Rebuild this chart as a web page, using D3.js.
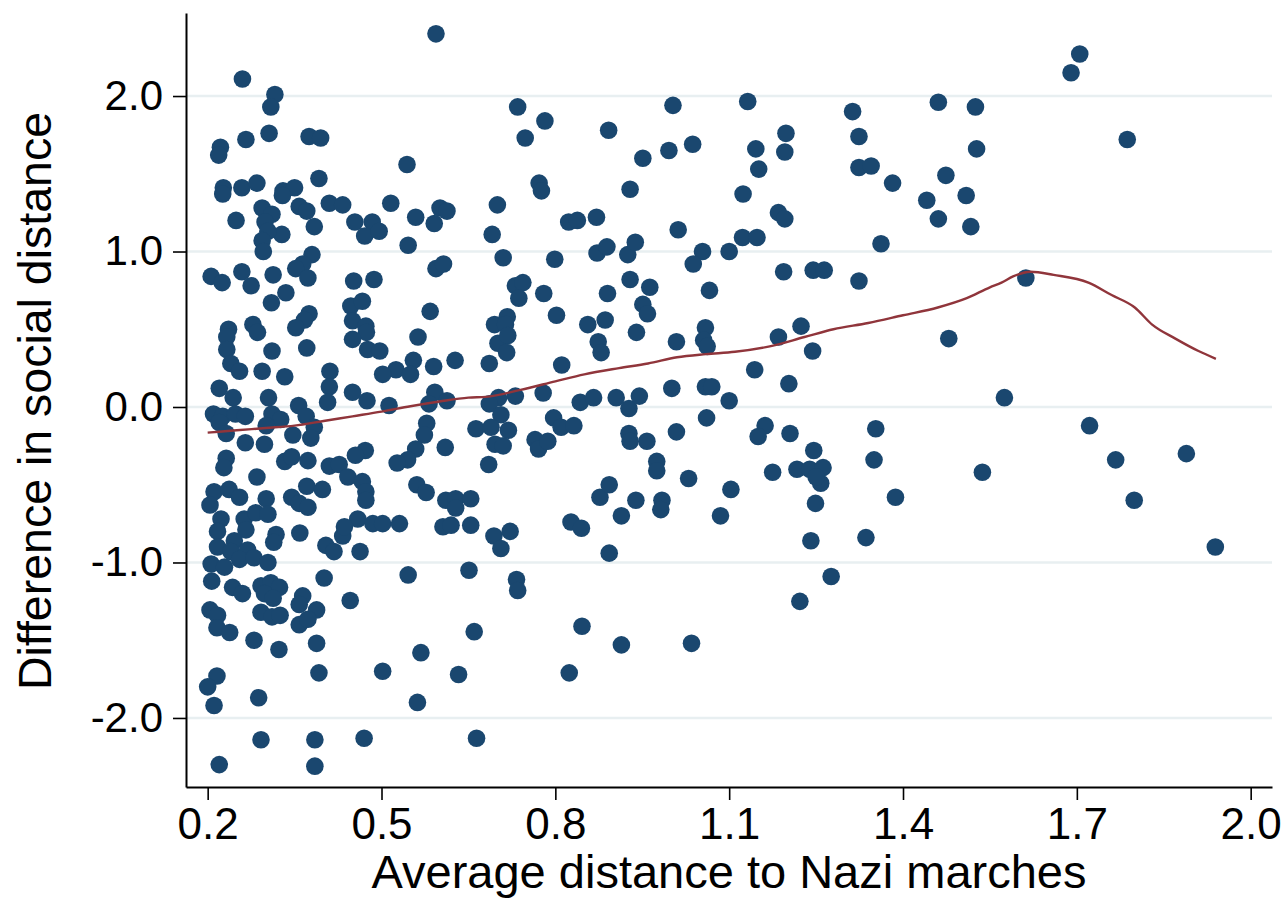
<!DOCTYPE html>
<html>
<head>
<meta charset="utf-8">
<script src="https://cdn.jsdelivr.net/npm/d3@7"></script>
<style>
  body { margin: 0; background: #fff; }
  text { font-family: "Liberation Sans", Arial, sans-serif; fill: #000; }
</style>
</head>
<body>
<div id="chart"></div>
<script>
// ticks
var xTicks = [0.2, 0.5, 0.8, 1.1, 1.4, 1.7, 2.0];
var yTicks = [-2.0, -1.0, 0.0, 1.0, 2.0];

// scatter: [average distance to marches, difference in social distance]
var marchPoints = [
  [0.260,2.11],[0.316,2.01],[0.309,1.93],[0.306,1.76],[0.266,1.72],[0.375,1.74],[0.395,1.73],[0.222,1.67],[0.219,1.62],
  [0.227,1.41],[0.226,1.37],[0.259,1.41],[0.285,1.44],[0.330,1.39],[0.350,1.41],[0.329,1.36],[0.392,1.47],[0.410,1.31],
  [0.249,1.20],[0.294,1.28],[0.311,1.24],[0.299,1.19],[0.358,1.29],[0.371,1.26],[0.328,1.11],[0.384,1.16],[0.304,1.13],
  [0.294,1.07],[0.296,1.00],[0.380,0.98],[0.364,0.92],[0.206,0.84],[0.259,0.87],[0.313,0.85],[0.352,0.89],
  [0.225,0.80],[0.275,0.78],[0.335,0.735],[0.310,0.67],[0.373,0.83],[0.375,0.60],[0.367,0.56],[0.352,0.51],[0.236,0.50],
  [0.233,0.45],[0.278,0.53],[0.286,0.48],[0.311,0.36],[0.371,0.38],[0.233,0.37],[0.240,0.28],[0.255,0.23],[0.294,0.23],
  [0.333,0.195],[0.411,0.23],[0.410,0.13],[0.407,0.03],[0.220,0.12],[0.244,0.06],[0.305,0.06],[0.357,0.01],[0.210,-0.045],
  [0.226,-0.06],[0.248,-0.045],[0.265,-0.06],[0.311,-0.045],[0.326,-0.08],[0.370,-0.06],[0.220,-0.10],[0.232,-0.17],
  [0.301,-0.12],[0.347,-0.18],[0.384,-0.13],[0.378,-0.20],[0.265,-0.23],[0.298,-0.24],[0.333,-0.35],[0.345,-0.32],
  [0.373,-0.345],[0.232,-0.33],[0.228,-0.39],[0.410,-0.38],[0.285,-0.45],[0.301,-0.59],[0.211,-0.545],[0.237,-0.53],
  [0.255,-0.58],[0.204,-0.63],[0.223,-0.72],[0.263,-0.72],[0.283,-0.68],[0.304,-0.69],[0.345,-0.58],[0.371,-0.51],
  [0.398,-0.53],[0.358,-0.62],[0.373,-0.645],
  [0.217,-0.80],[0.266,-0.79],[0.318,-0.82],[0.314,-0.87],[0.359,-0.81],[0.404,-0.89],[0.418,-0.93],[0.217,-0.90],
  [0.246,-0.86],[0.240,-0.93],[0.269,-0.92],[0.206,-1.01],[0.229,-1.03],[0.255,-0.98],[0.280,-0.97],[0.304,-1.00],
  [0.207,-1.12],[0.243,-1.16],[0.260,-1.20],[0.292,-1.15],[0.309,-1.13],[0.324,-1.16],[0.298,-1.20],[0.313,-1.23],
  [0.364,-1.215],[0.358,-1.27],[0.388,-1.305],[0.204,-1.305],[0.217,-1.34],[0.292,-1.32],[0.311,-1.35],[0.325,-1.34],
  [0.358,-1.40],[0.373,-1.365],[0.216,-1.42],[0.238,-1.45],[0.280,-1.50],[0.323,-1.56],[0.388,-1.52],[0.216,-1.73],
  [0.200,-1.80],[0.211,-1.92],[0.288,-1.87],[0.392,-1.71],[0.292,-2.14],[0.385,-2.14],[0.220,-2.30],[0.385,-2.31],
  [0.401,-1.10],[0.433,-0.83],
  [0.594,2.40],[0.544,1.56],[0.433,1.30],[0.516,1.31],[0.454,1.19],[0.484,1.19],[0.471,1.10],[0.496,1.13],[0.559,1.22],
  [0.601,1.28],[0.613,1.26],[0.591,1.18],[0.546,1.04],[0.594,0.89],[0.607,0.92],
  [0.452,0.81],[0.487,0.82],[0.447,0.65],[0.467,0.68],[0.450,0.555],[0.473,0.52],[0.474,0.48],[0.450,0.435],[0.476,0.37],
  [0.497,0.36],[0.584,0.615],[0.563,0.45],[0.555,0.30],[0.525,0.24],[0.502,0.21],[0.550,0.21],[0.590,0.26],[0.627,0.30],
  [0.450,0.095],[0.475,0.04],[0.513,0.01],[0.592,0.095],[0.582,0.02],[0.613,0.04],[0.578,-0.105],[0.574,-0.18],
  [0.559,-0.27],[0.545,-0.34],[0.527,-0.36],[0.610,-0.26],[0.663,-0.14],[0.472,-0.28],[0.455,-0.31],[0.427,-0.37],
  [0.442,-0.45],[0.467,-0.48],[0.473,-0.545],[0.473,-0.60],[0.561,-0.50],[0.577,-0.55],[0.611,-0.60],[0.628,-0.59],
  [0.654,-0.59],[0.628,-0.65],[0.459,-0.72],[0.485,-0.75],[0.502,-0.75],[0.531,-0.75],[0.436,-0.77],[0.606,-0.77],
  [0.620,-0.76],[0.654,-0.76],
  [0.463,-0.93],[0.546,-1.08],[0.651,-1.05],[0.446,-1.245],[0.660,-1.445],[0.568,-1.58],[0.502,-1.70],[0.633,-1.72],
  [0.562,-1.90],[0.470,-2.13],[0.664,-2.13],
  [0.735,1.93],[0.782,1.84],[0.748,1.73],[0.892,1.78],[1.003,1.94],[0.951,1.60],[0.996,1.65],[1.037,1.69],[0.772,1.44],
  [0.776,1.39],[0.929,1.40],[0.700,1.30],[0.691,1.11],[0.823,1.19],[0.838,1.20],[0.871,1.22],[1.012,1.14],[0.710,0.96],
  [0.799,0.95],[0.872,0.99],[0.889,1.03],[0.925,0.98],[0.938,1.06],[1.054,1.00],[1.038,0.92],[1.100,1.00],[0.731,0.78],
  [0.744,0.80],[0.737,0.70],[0.780,0.73],[0.890,0.73],[0.929,0.82],[0.963,0.77],[1.066,0.75],[0.695,0.53],[0.717,0.58],
  [0.714,0.53],[0.802,0.59],[0.856,0.53],[0.886,0.56],[0.951,0.66],[0.959,0.60],[0.940,0.48],[1.009,0.42],[1.059,0.51],
  [1.056,0.43],[1.062,0.39],[0.701,0.41],[0.718,0.46],[0.716,0.35],[0.686,0.28],[0.874,0.42],[0.879,0.35],[0.811,0.27],
  [0.779,0.09],[0.731,0.07],[0.702,0.06],[0.686,0.02],[0.706,-0.05],[0.689,-0.13],[0.719,-0.15],[0.696,-0.24],
  [0.710,-0.25],[0.685,-0.37],[0.843,0.03],[0.866,0.06],[0.905,0.06],[0.927,-0.01],[0.945,0.07],[1.001,0.12],[1.059,0.13],
  [1.070,0.13],[1.100,0.04],[0.797,-0.07],[0.810,-0.13],[0.832,-0.12],[0.765,-0.21],[0.771,-0.27],[0.787,-0.22],
  [0.927,-0.17],[0.929,-0.22],[0.958,-0.22],[1.009,-0.16],[1.061,-0.07],[0.975,-0.35],[0.975,-0.41],[1.030,-0.46],
  [1.103,-0.53],[0.877,-0.58],[0.893,-0.50],[0.939,-0.60],[0.984,-0.60],[0.982,-0.66],[0.914,-0.70],[1.085,-0.70],
  [0.827,-0.74],[0.845,-0.78],[0.694,-0.83],[0.722,-0.80],[0.706,-0.91],[0.893,-0.94],[0.733,-1.11],[0.735,-1.18],
  [0.846,-1.41],[0.914,-1.53],[1.035,-1.52],[0.824,-1.71],
  [1.132,1.965],[1.313,1.90],[1.461,1.96],[1.525,1.93],[1.198,1.76],[1.146,1.66],[1.196,1.64],[1.324,1.74],[1.151,1.53],
  [1.324,1.54],[1.345,1.55],[1.382,1.44],[1.527,1.66],[1.474,1.49],[1.124,1.37],[1.441,1.33],[1.509,1.36],[1.185,1.25],
  [1.196,1.21],[1.461,1.21],[1.517,1.16],[1.123,1.09],[1.148,1.09],[1.362,1.05],[1.194,0.87],[1.245,0.88],[1.264,0.88],
  [1.324,0.81],[1.224,0.52],[1.185,0.45],[1.244,0.36],[1.144,0.24],[1.203,0.15],[1.479,0.44],[1.162,-0.12],[1.150,-0.19],
  [1.205,-0.17],[1.353,-0.14],[1.246,-0.28],[1.350,-0.34],[1.175,-0.42],[1.217,-0.40],[1.239,-0.40],[1.262,-0.39],
  [1.258,-0.49],[1.250,-0.45],[1.537,-0.42],[1.387,-0.58],[1.249,-0.62],[1.336,-0.84],[1.241,-0.86],[1.276,-1.09],
  [1.222,-1.25],
  [1.705,2.27],[1.690,2.15],[1.787,1.72],[1.612,0.83],[1.575,0.06],[1.722,-0.12],[1.767,-0.34],[1.799,-0.60],
  [1.889,-0.30],[1.939,-0.90]
];

// lowess fit
var fitLine = [
  [0.20,-0.165],[0.25,-0.15],[0.30,-0.135],[0.35,-0.12],[0.40,-0.09],[0.45,-0.06],[0.50,-0.03],[0.55,0.005],
  [0.60,0.035],[0.65,0.06],[0.68,0.065],[0.74,0.11],[0.80,0.165],[0.85,0.21],[0.91,0.25],[0.96,0.28],[1.01,0.32],
  [1.06,0.34],[1.11,0.355],[1.17,0.39],[1.23,0.45],[1.28,0.50],[1.34,0.54],[1.40,0.59],[1.46,0.64],[1.51,0.70],
  [1.55,0.77],[1.57,0.80],[1.59,0.84],[1.62,0.87],[1.66,0.85],[1.72,0.80],[1.76,0.72],[1.80,0.64],[1.83,0.53],
  [1.87,0.44],[1.91,0.36],[1.94,0.31]
];

var xTitle = "Average distance to Nazi marches";
var yTitle = "Difference in social distance";

var width = 1288, height = 900;

var svg = d3.select("#chart").append("svg")
  .attr("width", width)
  .attr("height", height);

var x = d3.scaleLinear().domain([0.1626, 2.0368]).range([186, 1272]);
var y = d3.scaleLinear().domain([-2.444, 2.534]).range([787, 13]);

// grid
svg.append("g").selectAll("line").data(yTicks).enter()
  .append("line")
    .attr("x1", 186).attr("x2", 1272)
    .attr("y1", function(d) { return y(d); })
    .attr("y2", function(d) { return y(d); })
    .attr("stroke", "#e8eff1")
    .attr("stroke-width", 2.5);

// points
svg.append("g").selectAll("circle").data(marchPoints).enter()
  .append("circle")
    .attr("cx", function(d) { return x(d[0]); })
    .attr("cy", function(d) { return y(d[1]); })
    .attr("r", 8.8)
    .attr("fill", "#1a476f");

// fit line
var line = d3.line()
  .curve(d3.curveMonotoneX)
  .x(function(d) { return x(d[0]); })
  .y(function(d) { return y(d[1]); });

svg.append("path")
  .datum(fitLine)
  .attr("d", line)
  .attr("fill", "none")
  .attr("stroke", "#90353b")
  .attr("stroke-width", 2.4);

// axes
var fmt = function(d) { return d3.format(".1f")(d).replace("\u2212", "-"); };

svg.append("g")
  .attr("transform", "translate(0,787)")
  .call(d3.axisBottom(x).tickValues(xTicks).tickFormat(fmt).tickSize(13).tickSizeOuter(0).tickPadding(8))
  .selectAll(".tick text").attr("font-size", 44);

svg.append("g")
  .attr("transform", "translate(186,0)")
  .call(d3.axisLeft(y).tickValues(yTicks).tickFormat(fmt).tickSize(13).tickSizeOuter(0).tickPadding(10))
  .selectAll(".tick text").attr("font-size", 42);

svg.selectAll(".domain").attr("stroke", "#000").attr("stroke-width", 2);
svg.selectAll(".tick line").attr("stroke", "#000").attr("stroke-width", 1.6);
svg.selectAll(".tick text").attr("font-family", "Liberation Sans, Arial, sans-serif").attr("fill", "#000");

// titles
svg.append("text")
  .attr("x", 729).attr("y", 888)
  .attr("text-anchor", "middle")
  .attr("font-size", 47)
  .text(xTitle);

svg.append("text")
  .attr("transform", "translate(51,401) rotate(-90)")
  .attr("text-anchor", "middle")
  .attr("font-size", 46.5)
  .text(yTitle);
</script>
</body>
</html>
